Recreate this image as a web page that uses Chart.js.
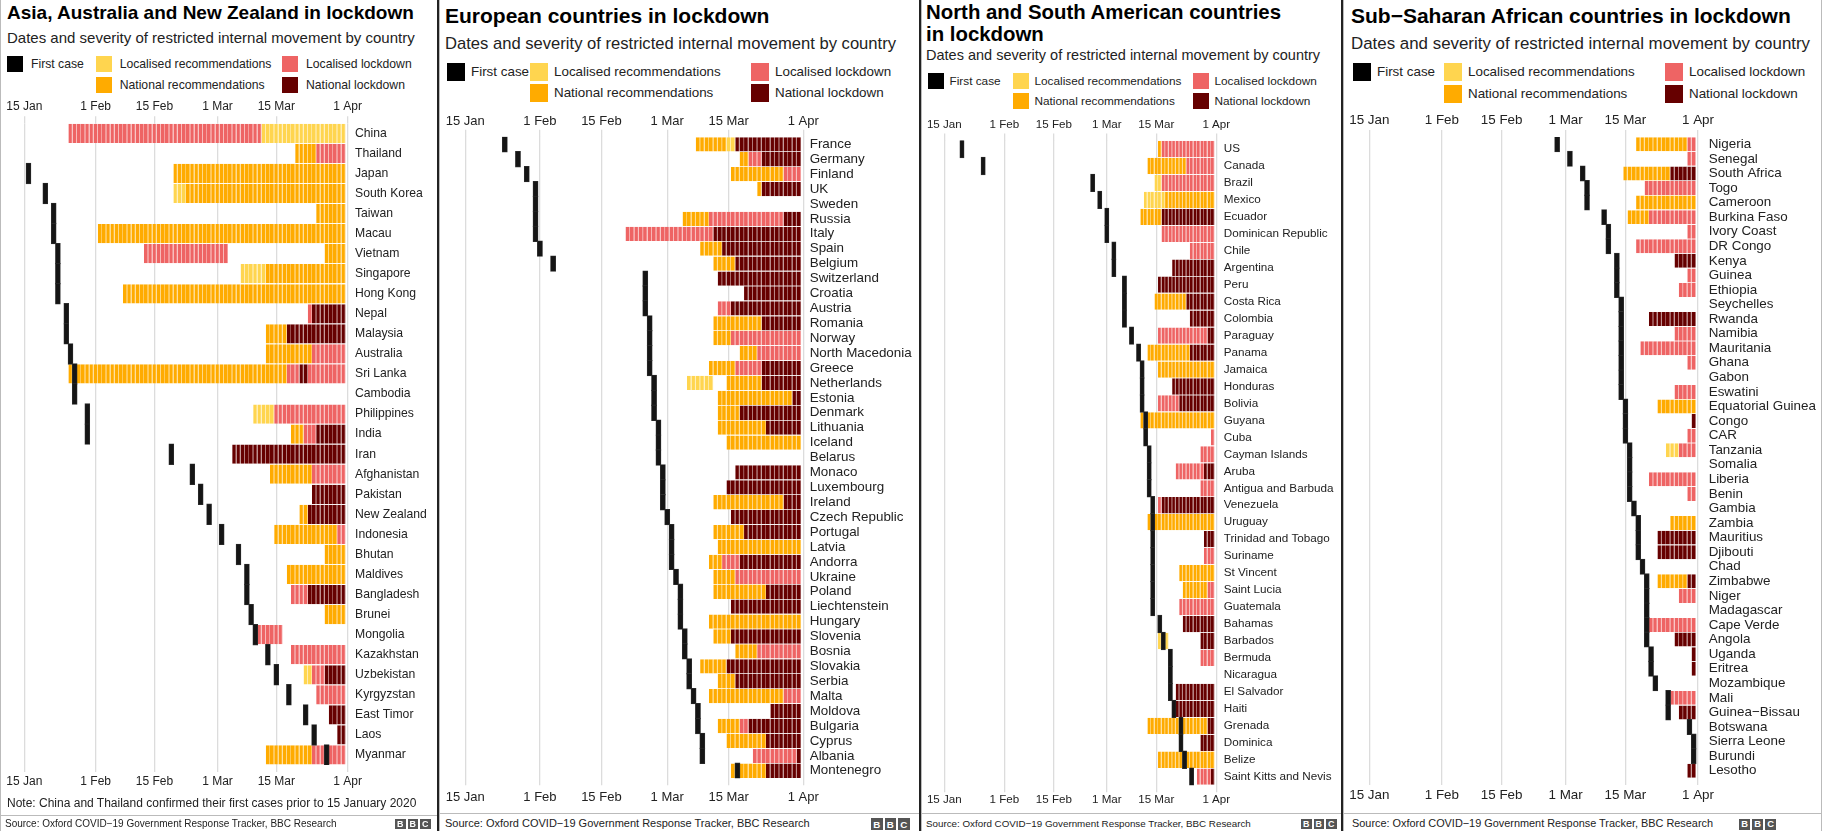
<!DOCTYPE html>
<html>
<head>
<meta charset="utf-8">
<script src="https://cdn.jsdelivr.net/npm/chart.js@4.4.1/dist/chart.umd.min.js"></script>
<style>
  html, body { margin: 0; padding: 0; background: #fff; }
  body { position: relative; width: 1822px; height: 831px; overflow: hidden;
         font-family: "Liberation Sans", Arial, Helvetica, sans-serif; color: #222; }
  .abs { position: absolute; white-space: nowrap; }
  .title { font-weight: bold; color: #000; }
  .vline { position: absolute; top: 0; height: 831px; }
  .bbc { position: absolute; display: flex; gap: 2px; }
  .bbc span { background: #555; color: #fff; font-weight: bold; display: flex;
              align-items: center; justify-content: center; }
</style>
</head>
<body>
<script>
/* Lockdown timelines, 15 Jan - 31 Mar 2020. Day 0 = 15 Jan. */

const TICK_DAYS = [0, 17, 31, 46, 60, 77];
const TICK_LABELS = ["15 Jan", "1 Feb", "15 Feb", "1 Mar", "15 Mar", "1 Apr"];

// levels: 1 localised recs, 2 national recs, 3 localised lockdown, 4 national lockdown
const LEVEL_NAMES = ["Localised recommendations", "National recommendations", "Localised lockdown", "National lockdown"];
const LEVEL_COLORS = ["#ffd54f", "#ffab00", "#ee6464", "#660000"];
const LEVEL_EDGES = ["#ffe592", "#ffc54d", "#f49a9a", "#8e3b3b"];

// ---- Asia ----
const asiaCountries = ["China", "Thailand", "Japan", "South Korea", "Taiwan", "Macau", "Vietnam", "Singapore",
  "Hong Kong", "Nepal", "Malaysia", "Australia", "Sri Lanka", "Cambodia", "Philippines", "India", "Iran",
  "Afghanistan", "Pakistan", "New Zealand", "Indonesia", "Bhutan", "Maldives", "Bangladesh", "Brunei",
  "Mongolia", "Kazakhstan", "Uzbekistan", "Kyrgyzstan", "East Timor", "Laos", "Myanmar"];
const asiaFirstCase = [null, null, 1, 5, 7, 7, 8, 8, 8, 10, 10, 11, 12, 12, 15, 15, 35, 40, 42, 44, 47, 51,
  53, 53, 54, 55, 58, 60, 63, 67, 69, 72];
const asiaSpans = [
  [[11, 56, 3], [57, 76, 1]],
  [[65, 69, 2], [70, 76, 3]],
  [[36, 76, 2]],
  [[36, 38, 1], [39, 76, 2]],
  [[70, 76, 2]],
  [[18, 76, 2]],
  [[29, 48, 3], [72, 76, 2]],
  [[52, 57, 1], [58, 76, 2]],
  [[24, 76, 2]],
  [[68, 68, 3], [69, 76, 4]],
  [[58, 62, 2], [63, 76, 4]],
  [[58, 68, 2], [69, 76, 3]],
  [[11, 62, 2], [63, 65, 3], [66, 67, 4], [68, 76, 3]],
  [],
  [[55, 59, 1], [60, 76, 3]],
  [[64, 66, 2], [67, 69, 3], [70, 76, 4]],
  [[50, 76, 4]],
  [[59, 68, 2], [69, 76, 3]],
  [[69, 76, 4]],
  [[66, 67, 2], [68, 76, 4]],
  [[60, 74, 2], [75, 76, 3]],
  [[72, 76, 2]],
  [[63, 76, 2]],
  [[64, 67, 3], [68, 76, 4]],
  [[72, 76, 2]],
  [[56, 61, 3]],
  [[64, 76, 3]],
  [[67, 68, 1], [69, 71, 3], [72, 76, 4]],
  [[70, 76, 3]],
  [[73, 76, 4]],
  [[75, 76, 4]],
  [[58, 68, 2], [69, 76, 3]],
];

// ---- Europe ----
const europeCountries = ["France", "Germany", "Finland", "UK", "Sweden", "Russia", "Italy", "Spain", "Belgium",
  "Switzerland", "Croatia", "Austria", "Romania", "Norway", "North Macedonia", "Greece", "Netherlands",
  "Estonia", "Denmark", "Lithuania", "Iceland", "Belarus", "Monaco", "Luxembourg", "Ireland", "Czech Republic",
  "Portugal", "Latvia", "Andorra", "Ukraine", "Poland", "Liechtenstein", "Hungary", "Slovenia", "Bosnia",
  "Slovakia", "Serbia", "Malta", "Moldova", "Bulgaria", "Cyprus", "Albania", "Montenegro"];
const europeFirstCase = [9, 12, 14, 16, 16, 16, 16, 17, 20, 41, 41, 41, 42, 42, 42, 42, 43, 43, 43, 44, 44, 44,
  45, 45, 45, 46, 47, 47, 47, 48, 49, 49, 49, 50, 50, 51, 51, 52, 53, 53, 54, 54, 62];
const europeSpans = [
  [[53, 59, 2], [60, 61, 1], [62, 76, 4]],
  [[63, 64, 2], [65, 67, 3], [68, 76, 4]],
  [[61, 72, 2], [73, 76, 3]],
  [[67, 67, 2], [68, 76, 4]],
  [],
  [[50, 55, 2], [56, 72, 3], [73, 76, 4]],
  [[37, 56, 3], [57, 76, 4]],
  [[54, 58, 2], [59, 76, 4]],
  [[57, 61, 2], [62, 76, 4]],
  [[58, 76, 4]],
  [[64, 76, 4]],
  [[58, 60, 3], [61, 76, 4]],
  [[57, 67, 2], [68, 76, 4]],
  [[57, 60, 2], [61, 76, 3]],
  [[63, 66, 2], [67, 76, 3]],
  [[56, 61, 2], [62, 67, 3], [68, 76, 4]],
  [[51, 56, 1], [60, 67, 2], [68, 76, 4]],
  [[58, 74, 2], [75, 76, 4]],
  [[58, 62, 2], [63, 76, 4]],
  [[58, 68, 2], [69, 76, 4]],
  [[60, 76, 2]],
  [],
  [[62, 76, 4]],
  [[60, 76, 4]],
  [[57, 72, 2], [73, 76, 4]],
  [[61, 76, 4]],
  [[57, 63, 2], [64, 76, 4]],
  [[58, 76, 2]],
  [[56, 58, 2], [59, 62, 3], [63, 76, 4]],
  [[57, 61, 2], [62, 76, 3]],
  [[57, 68, 2], [69, 76, 4]],
  [[61, 76, 4]],
  [[56, 76, 2]],
  [[57, 60, 2], [61, 76, 4]],
  [[62, 66, 2], [67, 76, 3]],
  [[54, 59, 2], [60, 76, 4]],
  [[58, 61, 2], [62, 76, 4]],
  [[56, 72, 2], [73, 76, 3]],
  [[70, 76, 4]],
  [[58, 62, 2], [63, 64, 3], [65, 76, 4]],
  [[60, 68, 2], [69, 76, 4]],
  [[66, 75, 3], [76, 76, 4]],
  [[61, 68, 2], [69, 76, 4]],
];

// ---- Americas ----
const americasCountries = ["US", "Canada", "Brazil", "Mexico", "Ecuador", "Dominican Republic", "Chile",
  "Argentina", "Peru", "Costa Rica", "Colombia", "Paraguay", "Panama", "Jamaica", "Honduras", "Bolivia",
  "Guyana", "Cuba", "Cayman Islands", "Aruba", "Antigua and Barbuda", "Venezuela", "Uruguay",
  "Trinidad and Tobago", "Suriname", "St Vincent", "Saint Lucia", "Guatemala", "Bahamas", "Barbados",
  "Bermuda", "Nicaragua", "El Salvador", "Haiti", "Grenada", "Dominica", "Belize", "Saint Kitts and Nevis"];
const americasFirstCase = [5, 11, 42, 44, 46, 46, 48, 48, 51, 51, 51, 53, 55, 56, 56, 56, 57, 57, 58, 58, 58,
  59, 59, 59, 59, 59, 59, 59, 61, 62, 64, 64, 64, 65, 67, 67, 68, 70];
const americasSpans = [
  [[61, 61, 2], [62, 76, 3]],
  [[58, 68, 2], [69, 76, 3]],
  [[60, 61, 1], [62, 76, 3]],
  [[57, 62, 1], [63, 76, 2]],
  [[56, 61, 2], [62, 76, 4]],
  [[62, 76, 3]],
  [[70, 76, 3]],
  [[65, 76, 4]],
  [[61, 76, 4]],
  [[60, 68, 2], [69, 76, 4]],
  [[70, 76, 4]],
  [[61, 74, 3], [75, 76, 4]],
  [[58, 69, 2], [70, 76, 4]],
  [[61, 76, 2]],
  [[65, 76, 4]],
  [[61, 66, 3], [67, 76, 4]],
  [[56, 76, 2]],
  [[76, 76, 3]],
  [[73, 76, 3]],
  [[66, 73, 3], [74, 76, 4]],
  [[73, 76, 3]],
  [[61, 61, 3], [62, 76, 4]],
  [[58, 76, 2]],
  [[74, 76, 4]],
  [[74, 76, 3]],
  [[67, 76, 2]],
  [[68, 74, 2], [75, 76, 3]],
  [[67, 76, 3]],
  [[68, 76, 4]],
  [[61, 63, 1], [73, 76, 4]],
  [[73, 76, 3]],
  [],
  [[66, 76, 4]],
  [[66, 76, 4]],
  [[58, 74, 2], [75, 76, 4]],
  [[73, 76, 4]],
  [[61, 76, 2]],
  [[72, 75, 3], [76, 76, 4]],
];

// ---- Sub-Saharan Africa ----
const africaCountries = ["Nigeria", "Senegal", "South Africa", "Togo", "Cameroon", "Burkina Faso", "Ivory Coast",
  "DR Congo", "Kenya", "Guinea", "Ethiopia", "Seychelles", "Rwanda", "Namibia", "Mauritania", "Ghana", "Gabon",
  "Eswatini", "Equatorial Guinea", "Congo", "CAR", "Tanzania", "Somalia", "Liberia", "Benin", "Gambia",
  "Zambia", "Mauritius", "Djibouti", "Chad", "Zimbabwe", "Niger", "Madagascar", "Cape Verde", "Angola",
  "Uganda", "Eritrea", "Mozambique", "Mali", "Guinea\u2212Bissau", "Botswana", "Sierra Leone", "Burundi", "Lesotho"];
const africaFirstCase = [44, 47, 50, 51, 51, 55, 56, 56, 58, 58, 58, 59, 59, 59, 59, 59, 59, 59, 60, 60, 60, 61,
  61, 61, 61, 62, 63, 63, 63, 64, 65, 65, 65, 65, 65, 66, 66, 67, 70, 70, 75, 76, 76, null];
const africaSpans = [
  [[63, 74, 2], [75, 76, 3]],
  [[75, 76, 3]],
  [[60, 70, 2], [71, 76, 4]],
  [[65, 76, 3]],
  [[63, 76, 2]],
  [[61, 65, 2], [66, 76, 3]],
  [[75, 76, 3]],
  [[63, 76, 3]],
  [[72, 76, 4]],
  [[75, 76, 3]],
  [[73, 76, 3]],
  [],
  [[66, 76, 4]],
  [[72, 76, 3]],
  [[64, 76, 3]],
  [[75, 76, 3]],
  [],
  [[72, 76, 3]],
  [[68, 76, 2]],
  [[76, 76, 4]],
  [[75, 76, 3]],
  [[70, 72, 1], [73, 76, 3]],
  [],
  [[66, 76, 3]],
  [[75, 76, 3]],
  [],
  [[71, 76, 2]],
  [[68, 76, 4]],
  [[68, 76, 4]],
  [],
  [[68, 74, 2], [75, 76, 4]],
  [[73, 76, 3]],
  [],
  [[66, 76, 3]],
  [[72, 76, 4]],
  [[76, 76, 4]],
  [[76, 76, 4]],
  [],
  [[71, 76, 3]],
  [[73, 76, 4]],
  [],
  [],
  [],
  [[75, 76, 4]],
];

const SOURCE = "Source: Oxford COVID\u221219 Government Response Tracker, BBC Research";

// page layout of the four panels (pixels)
const PANELS = [
  { left: 0, right: 437, textX: 7, title: ["Asia, Australia and New Zealand in lockdown"], titleSize: 19, titleY: [13],
    subSize: 15, subY: 38, legX: [7, 95.7, 282], legGap: 8, legY: [64, 85], legSq: 16, legSize: 12.2,
    cl: 1, cw: 435, ct: 88, cb: 800, areaTop: 123.3, areaBottom: 765, p0: 24.3, p77: 347.7, R: 350.5,
    labelPad: 4.5, font: 12.2, tickFont: 12, topPad: 2.1, botPad: 2.8,
    note: "Note: China and Thailand confirmed their first cases prior to 15 January 2020", noteY: 803,
    lineY: 815, srcX: 5, srcSize: 10, bbcX: 395, bbcBox: 10.5,
    data: [asiaCountries, asiaFirstCase, asiaSpans] },
  { left: 438, right: 919, textX: 445, title: ["European countries in lockdown"], titleSize: 21, titleY: [16],
    subSize: 16.6, subY: 44, legX: [447, 530, 751], legGap: 6.5, legY: [72, 93], legSq: 17.5, legSize: 13.4,
    cl: 439, cw: 479, ct: 100, cb: 812, areaTop: 136.85, areaBottom: 778.2, p0: 465.3, p77: 803.3, R: 806.5,
    labelPad: 3.2, font: 13.4, tickFont: 13, topPad: 1.1, botPad: 4.8,
    lineY: 813, srcX: 445, srcSize: 11, bbcX: 871, bbcBox: 11.5,
    data: [europeCountries, europeFirstCase, europeSpans] },
  { left: 920, right: 1341, textX: 926, title: ["North and South American countries", "in lockdown"], titleSize: 20.4, titleY: [12, 34],
    subSize: 14.5, subY: 56, legX: [928, 1013, 1193], legGap: 6, legY: [81, 101], legSq: 15.5, legSize: 11.8,
    cl: 921, cw: 419, ct: 105, cb: 812, areaTop: 140.5, areaBottom: 785.2, p0: 944.3, p77: 1216.3, R: 1219,
    labelPad: 4.7, font: 11.7, tickFont: 11.6, topPad: 2.2, botPad: 1,
    lineY: 813, srcX: 926, srcSize: 9.8, bbcX: 1301, bbcBox: 10.5,
    data: [americasCountries, americasFirstCase, americasSpans] },
  { left: 1342, right: 1822, textX: 1351, title: ["Sub\u2212Saharan African countries in lockdown"], titleSize: 21, titleY: [16],
    subSize: 16.9, subY: 44, legX: [1353, 1444, 1665], legGap: 6.5, legY: [72, 94], legSq: 17.5, legSize: 13.4,
    cl: 1343, cw: 479, ct: 100, cb: 812, areaTop: 137, areaBottom: 778, p0: 1369.3, p77: 1698, R: 1701,
    labelPad: 7.7, font: 13.4, tickFont: 13.4, topPad: 1.3, botPad: 2,
    lineY: 813, srcX: 1352, srcSize: 10.9, bbcX: 1739, bbcBox: 11,
    data: [africaCountries, africaFirstCase, africaSpans] },
];

Chart.defaults.font.family = '"Liberation Sans", Arial, Helvetica, sans-serif';
Chart.defaults.color = "#222";
Chart.defaults.animation = false;

function addText(text, x, cy, size, cls) {
  const el = document.createElement("div");
  el.className = "abs" + (cls ? " " + cls : "");
  el.textContent = text;
  el.style.left = x + "px";
  el.style.top = (cy - size * 0.6) + "px";
  el.style.fontSize = size + "px";
  el.style.lineHeight = (size * 1.2) + "px";
  document.body.appendChild(el);
  return el;
}

function addBox(x, y, w, h, color, cls) {
  const el = document.createElement("div");
  el.className = cls || "abs";
  Object.assign(el.style, { left: x + "px", top: y + "px", width: w + "px", height: h + "px", background: color });
  document.body.appendChild(el);
  return el;
}

function drawHeader(p) {
  p.title.forEach((t, i) => addText(t, p.textX, p.titleY[i], p.titleSize, "title"));
  addText("Dates and severity of restricted internal movement by country", p.textX, p.subY, p.subSize);
  const items = [
    [0, 0, "#000", "First case"],
    [1, 0, LEVEL_COLORS[0], LEVEL_NAMES[0]],
    [2, 0, LEVEL_COLORS[2], LEVEL_NAMES[2]],
    [1, 1, LEVEL_COLORS[1], LEVEL_NAMES[1]],
    [2, 1, LEVEL_COLORS[3], LEVEL_NAMES[3]],
  ];
  for (const [col, row, color, label] of items) {
    const x = p.legX[col], cy = p.legY[row];
    addBox(x, cy - p.legSq / 2, p.legSq, p.legSq, color);
    addText(label, x + p.legSq + p.legGap, cy, p.legSize);
  }
}

function drawFooter(p) {
  if (p.note) addText(p.note, p.textX, p.noteY, 12);
  addBox(p.left + 1, p.lineY, p.right - p.left - 1, 1, "#bbb");
  addText(SOURCE, p.srcX, 824, p.srcSize);
  const logo = document.createElement("div");
  logo.className = "bbc";
  logo.style.left = p.bbcX + "px";
  logo.style.top = (824 - p.bbcBox / 2) + "px";
  for (const ch of "BBC") {
    const s = document.createElement("span");
    s.textContent = ch;
    Object.assign(s.style, { width: p.bbcBox + "px", height: p.bbcBox + "px", fontSize: (p.bbcBox * 0.85) + "px" });
    logo.appendChild(s);
  }
  document.body.appendChild(logo);
}

function buildDatasets(countries, firstCase, spans) {
  const byLevel = [[], [], [], []];
  spans.forEach((row, i) => row.forEach(([a, b, lvl]) => {
    for (let d = a; d <= b; d++) byLevel[lvl - 1].push({ x: [d - 0.5, d + 0.5], y: countries[i] });
  }));
  const common = { grouped: false, categoryPercentage: 1, barPercentage: 0.96, borderSkipped: false };
  const first = firstCase
    .map((d, i) => (d == null ? null : { x: [d - 0.5, d + 0.5], y: countries[i] }))
    .filter(Boolean);
  // first dataset is painted last, so the first-case marks sit on top
  const sets = [{ label: "First case", data: first, backgroundColor: "#151515", borderColor: "#2e2e2e",
                  borderWidth: 0.8, ...common, barPercentage: 1, inflateAmount: 0.7 }];
  byLevel.forEach((data, k) => sets.push({
    label: LEVEL_NAMES[k], data, backgroundColor: LEVEL_COLORS[k], borderColor: LEVEL_EDGES[k],
    borderWidth: { top: 0, bottom: 0, left: 0, right: 0.8 }, ...common,
  }));
  return sets;
}

function drawChart(p) {
  const [countries, firstCase, spans] = p.data;
  const canvas = document.createElement("canvas");
  canvas.width = p.cw;
  canvas.height = p.cb - p.ct;
  Object.assign(canvas.style, { position: "absolute", left: p.cl + "px", top: p.ct + "px" });
  document.body.appendChild(canvas);

  const dayPx = (p.p77 - p.p0) / 77;
  const xMin = (p.cl - p.p0) / dayPx;
  const xMax = (p.R - p.p0) / dayPx;
  const grid = { color: "#dcdcdc", lineWidth: 1.3, drawTicks: true, tickLength: 7 };

  const timeAxis = (position, pad, height, onArea) => ({
    type: "linear", position, min: xMin, max: xMax,
    afterBuildTicks: (s) => { s.ticks = TICK_DAYS.map((v) => ({ value: v })); },
    afterFit: (s) => { s.height = height; },
    ticks: { autoSkip: false, maxRotation: 0, padding: pad, font: { size: p.tickFont }, color: "#222",
             callback: (v, i) => TICK_LABELS[i] },
    grid: { ...grid, drawOnChartArea: onArea },
    border: { display: false },
  });

  new Chart(canvas, {
    type: "bar",
    data: { labels: countries, datasets: buildDatasets(countries, firstCase, spans) },
    options: {
      indexAxis: "y",
      responsive: false,
      animation: false,
      layout: { padding: 0 },
      plugins: { legend: { display: false }, tooltip: { enabled: false } },
      scales: {
        x: timeAxis("bottom", p.botPad, p.cb - p.areaBottom, true),
        x2: timeAxis("top", p.topPad, p.areaTop - p.ct, false),
        y: {
          type: "category", position: "right",
          afterFit: (s) => { s.width = p.cl + p.cw - p.R; },
          grid: { display: false, drawTicks: false },
          border: { display: false },
          ticks: { autoSkip: false, padding: p.labelPad, font: { size: p.font }, color: "#222" },
        },
      },
    },
  });
}

// panel frames and separators
addBox(0, 0, 1, 831, "#bbb", "vline");
addBox(1821, 0, 1, 831, "#bbb", "vline");
[437, 919, 1341].forEach((x) => addBox(x, 0, 1.5, 831, "#222", "vline"));
[438.5, 920.5, 1342.5].forEach((x) => addBox(x, 0, 1, 831, "#bbb", "vline"));

for (const p of PANELS) {
  drawHeader(p);
  drawChart(p);
  drawFooter(p);
}
</script>
</body>
</html>
